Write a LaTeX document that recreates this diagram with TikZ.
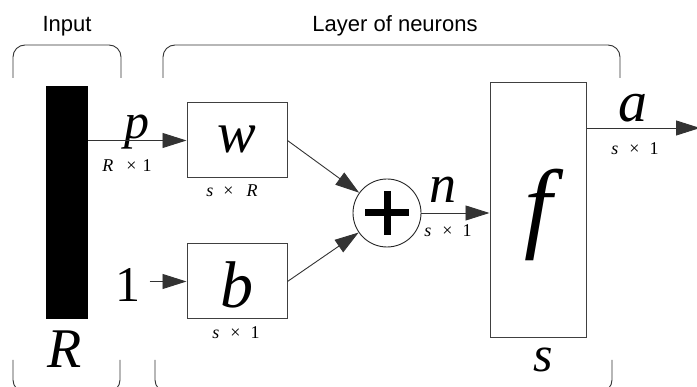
\documentclass[tikz,border=0pt]{standalone}
\usepackage{fontspec}
\setmainfont{Liberation Serif}
\newfontfamily\sansf{Liberation Sans}
\newfontfamily\timesit{Liberation Serif Italic}
\usetikzlibrary{arrows.meta}
\begin{document}
\begin{tikzpicture}[x=1pt,y=-1pt,
  box/.style={draw=black!75, line width=1pt, inner sep=0pt},
  arr/.style={-{Triangle[length=24pt,width=15pt]}, line width=0.9pt, draw=black!80},
  brk/.style={draw=black!80, line width=0.9pt, rounded corners=12pt},
  lbl/.style={inner sep=0pt, anchor=base},
  big/.style={lbl, font=\timesit\fontsize{56}{60}\selectfont},
  small/.style={lbl, font=\fontsize{18}{21}\selectfont},
  head/.style={lbl, font=\sansf\fontsize{22}{26}\selectfont},
]
\clip (0,0) rectangle (697,387);
% headings and brackets
\node[head] (inlabel) at (67,32) {Input};
\node[head] (laylabel) at (395,32) {Layer of neurons};
\draw[brk] (13,78) -- (13,45) -- (121,45) -- (121,78);
\draw[brk] (163,78) -- (163,45) -- (620,45) -- (620,78);
\draw[brk] (13,360) -- (13,392) -- (120,392) -- (120,360);
\draw[brk] (155,360) -- (155,392) -- (612,392) -- (612,360);
% input bar
\node[fill=black, minimum width=42pt, minimum height=233pt, inner sep=0pt] (bar) at (67,202.5) {};
\node[big] (R) at (65,368) {R};
% weight and bias boxes
\node[box, minimum width=100pt, minimum height=75pt] (w) at (237,140.5) {};
\node[big, font=\timesit\fontsize{58}{60}\selectfont] (wl) at (237,153) {w};
\node[small] (wdim) at (232,197) {{\timesit s}\hspace{10pt}×\hspace{13pt}{\timesit R}};
\node[box, minimum width=100pt, minimum height=75pt] (b) at (237,281.5) {};
\node[big, font=\timesit\fontsize{66}{68}\selectfont] (bl) at (237,308) {b};
\node[small] (bdim) at (236,339) {{\timesit s}\hspace{11pt}×\hspace{10pt}1};
% p input
\node[big, font=\timesit\fontsize{50}{54}\selectfont] (p) at (137,139) {p};
\node[small] (pdim) at (127,172) {{\timesit R}\hspace{13pt}×\hspace{6pt}1};
\node[lbl, font=\fontsize{50}{54}\selectfont] (one) at (128,302) {1};
% summation
\node[draw=black!85, line width=0.9pt, circle, minimum size=68pt, inner sep=0pt] (sum) at (387,213) {};
\draw[line width=7pt] ([xshift=-22pt]sum.center) -- ([xshift=22pt]sum.center);
\draw[line width=7pt] ([yshift=22pt]sum.center) -- ([yshift=-22pt]sum.center);
\node[big, font=\timesit\fontsize{54}{56}\selectfont] (n) at (443,203) {n};
\node[small] (ndim) at (448,237) {{\timesit s}\hspace{11pt}×\hspace{10pt}1};
% transfer function
\node[box, minimum width=96pt, minimum height=255pt] (f) at (538,210.5) {};
\node[big, font=\timesit\fontsize{100}{104}\selectfont] (fl) at (538,240) {f};
\node[big, font=\timesit\fontsize{50}{54}\selectfont] (s) at (543,372) {s};
% output
\node[big, font=\timesit\fontsize{58}{60}\selectfont] (a) at (633,122) {a};
\node[small] (adim) at (635,155) {{\timesit s}\hspace{11pt}×\hspace{10pt}1};
\coordinate (out) at (700,128);
% connectors
\draw[arr] (bar.east |- w.west) -- (w.west);
\draw[arr] ([xshift=9pt]one.east |- b.west) -- (b.west);
\draw[arr] (w.east) -- (sum);
\draw[arr] (b.east) -- (sum);
\draw[arr] (sum.east) -- (sum.east -| f.west);
\draw[arr] (f.east |- out) -- (out);
\end{tikzpicture}
\end{document}
